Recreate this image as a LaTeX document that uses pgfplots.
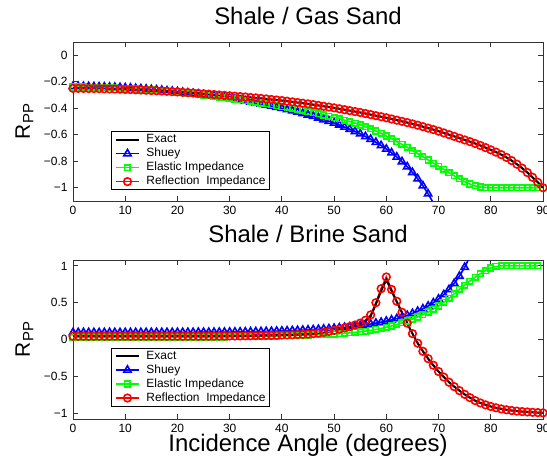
\documentclass[border=0pt]{standalone}
\usepackage{pgfplots}
\pgfplotsset{compat=1.18}
\usepackage{pgfplotstable}
\usepackage{fontspec}
\setmainfont{Liberation Sans}

\definecolor{mblue}{rgb}{0,0,1}
\definecolor{mgreen}{rgb}{0,1,0}
\definecolor{mred}{rgb}{1,0,0}

\pgfplotstableread{
a ex sh ei
0 -0.250 -0.235 -0.240
1 -0.250 -0.235 -0.240
2 -0.250 -0.235 -0.240
3 -0.251 -0.236 -0.241
4 -0.251 -0.237 -0.242
5 -0.252 -0.238 -0.242
6 -0.253 -0.239 -0.243
7 -0.254 -0.240 -0.245
8 -0.255 -0.241 -0.246
9 -0.256 -0.243 -0.248
10 -0.258 -0.245 -0.250
11 -0.259 -0.247 -0.252
12 -0.261 -0.250 -0.254
13 -0.262 -0.252 -0.257
14 -0.264 -0.255 -0.259
15 -0.266 -0.258 -0.262
16 -0.268 -0.261 -0.265
17 -0.270 -0.264 -0.268
18 -0.272 -0.268 -0.272
19 -0.275 -0.271 -0.275
20 -0.277 -0.275 -0.279
21 -0.280 -0.279 -0.283
22 -0.282 -0.284 -0.287
23 -0.285 -0.288 -0.291
24 -0.288 -0.293 -0.295
25 -0.291 -0.298 -0.300
26 -0.294 -0.303 -0.305
27 -0.297 -0.308 -0.310
28 -0.300 -0.314 -0.315
29 -0.303 -0.320 -0.320
30 -0.306 -0.326 -0.325
31 -0.309 -0.332 -0.330
32 -0.312 -0.339 -0.336
33 -0.315 -0.345 -0.342
34 -0.319 -0.352 -0.348
35 -0.322 -0.360 -0.354
36 -0.326 -0.367 -0.360
37 -0.330 -0.375 -0.366
38 -0.334 -0.383 -0.373
39 -0.338 -0.392 -0.380
40 -0.342 -0.400 -0.387
41 -0.347 -0.410 -0.394
42 -0.352 -0.419 -0.401
43 -0.357 -0.429 -0.409
44 -0.362 -0.439 -0.417
45 -0.367 -0.450 -0.425
46 -0.373 -0.461 -0.433
47 -0.379 -0.473 -0.442
48 -0.385 -0.486 -0.451
49 -0.391 -0.498 -0.460
50 -0.397 -0.512 -0.470
51 -0.404 -0.526 -0.480
52 -0.411 -0.542 -0.490
53 -0.418 -0.558 -0.501
54 -0.425 -0.575 -0.513
55 -0.432 -0.593 -0.526
56 -0.440 -0.613 -0.540
57 -0.448 -0.634 -0.555
58 -0.456 -0.657 -0.572
59 -0.464 -0.681 -0.590
60 -0.472 -0.708 -0.610
61 -0.481 -0.736 -0.630
62 -0.490 -0.768 -0.651
63 -0.499 -0.803 -0.673
64 -0.508 -0.841 -0.696
65 -0.518 -0.884 -0.720
66 -0.528 -0.932 -0.743
67 -0.539 -0.985 -0.766
68 -0.550 -1.046 -0.790
69 -0.561 nan -0.814
70 -0.573 nan -0.838
71 -0.586 nan -0.862
72 -0.599 nan -0.886
73 -0.612 nan -0.910
74 -0.626 nan -0.933
75 -0.639 nan -0.954
76 -0.652 nan -0.972
77 -0.666 nan -0.986
78 -0.681 nan -0.995
79 -0.697 nan -0.999
80 -0.714 nan -1.000
81 -0.731 nan -1.000
82 -0.750 nan -1.000
83 -0.771 nan -1.000
84 -0.795 nan -1.000
85 -0.822 nan -1.000
86 -0.852 nan -1.000
87 -0.885 nan -1.000
88 -0.921 nan -1.000
89 -0.959 nan -1.000
90 -1.000 nan nan
}\topdata

\pgfplotstableread{
a ex sh ei ri
0 0.045 0.095 0.030 0.045
1 0.045 0.095 0.030 0.045
2 0.045 0.095 0.030 0.045
3 0.045 0.095 0.030 0.045
4 0.045 0.095 0.030 0.045
5 0.045 0.095 0.030 0.045
6 0.045 0.095 0.030 0.045
7 0.045 0.095 0.030 0.045
8 0.045 0.095 0.030 0.045
9 0.045 0.095 0.030 0.045
10 0.045 0.095 0.030 0.045
11 0.045 0.095 0.031 0.045
12 0.045 0.095 0.031 0.045
13 0.045 0.096 0.031 0.045
14 0.045 0.096 0.031 0.045
15 0.045 0.096 0.031 0.045
16 0.045 0.096 0.031 0.045
17 0.045 0.096 0.031 0.045
18 0.045 0.096 0.031 0.045
19 0.045 0.096 0.031 0.045
20 0.045 0.096 0.031 0.045
21 0.045 0.097 0.032 0.045
22 0.045 0.097 0.032 0.045
23 0.045 0.097 0.032 0.045
24 0.045 0.098 0.032 0.045
25 0.045 0.098 0.032 0.045
26 0.046 0.098 0.033 0.046
27 0.046 0.099 0.033 0.046
28 0.047 0.100 0.034 0.047
29 0.047 0.100 0.035 0.047
30 0.048 0.101 0.036 0.048
31 0.048 0.102 0.037 0.048
32 0.049 0.103 0.038 0.049
33 0.050 0.104 0.039 0.050
34 0.051 0.105 0.040 0.051
35 0.052 0.107 0.041 0.052
36 0.053 0.108 0.042 0.053
37 0.055 0.110 0.044 0.055
38 0.056 0.111 0.045 0.056
39 0.058 0.114 0.047 0.058
40 0.060 0.116 0.049 0.060
41 0.062 0.118 0.051 0.062
42 0.064 0.121 0.053 0.064
43 0.067 0.123 0.055 0.067
44 0.070 0.127 0.057 0.070
45 0.074 0.130 0.060 0.074
46 0.079 0.134 0.063 0.080
47 0.086 0.138 0.066 0.087
48 0.095 0.142 0.069 0.097
49 0.107 0.147 0.072 0.109
50 0.121 0.153 0.075 0.124
51 0.137 0.159 0.079 0.140
52 0.153 0.165 0.084 0.157
53 0.170 0.173 0.090 0.175
54 0.190 0.181 0.097 0.196
55 0.215 0.189 0.105 0.223
56 0.250 0.199 0.114 0.262
57 0.315 0.210 0.124 0.335
58 0.480 0.222 0.136 0.500
59 0.660 0.235 0.150 0.690
60 0.810 0.250 0.166 0.850
61 0.660 0.266 0.184 0.680
62 0.510 0.284 0.204 0.520
63 0.365 0.305 0.226 0.370
64 0.220 0.328 0.250 0.222
65 0.080 0.354 0.277 0.080
66 -0.050 0.383 0.306 -0.050
67 -0.160 0.417 0.338 -0.160
68 -0.260 0.455 0.373 -0.260
69 -0.350 0.499 0.412 -0.350
70 -0.435 0.550 0.455 -0.435
71 -0.510 0.610 0.505 -0.510
72 -0.580 0.679 0.560 -0.580
73 -0.640 0.762 0.620 -0.640
74 -0.695 0.861 0.680 -0.695
75 -0.745 0.981 0.738 -0.745
76 -0.790 nan 0.793 -0.790
77 -0.830 nan 0.845 -0.830
78 -0.862 nan 0.893 -0.862
79 -0.888 nan 0.937 -0.888
80 -0.910 nan 0.972 -0.910
81 -0.928 nan 0.992 -0.928
82 -0.943 nan 1.000 -0.943
83 -0.955 nan 1.000 -0.955
84 -0.965 nan 1.000 -0.965
85 -0.973 nan 1.000 -0.973
86 -0.979 nan 1.000 -0.979
87 -0.984 nan 1.000 -0.984
88 -0.989 nan 1.000 -0.989
89 -0.993 nan 1.000 -0.993
90 -0.997 nan nan -0.997
}\botdata

\pgfplotsset{
  panel/.style={
    scale only axis, width=470bp, height=159bp,
    xmin=0, xmax=90, xtick={0,10,...,90},
    tick align=inside, major tick length=5bp,
    axis line style={black!80, line width=0.8bp},
    every tick/.style={black!80, line width=0.8bp},
    ticklabel style={font=\fontsize{12}{14}\selectfont},
    /pgf/number format/assume math mode=true,
    xticklabel style={inner sep=0.5bp, yshift=-4.5bp},
    yticklabel style={xshift=-2bp},
    title style={font=\fontsize{24}{28}\selectfont, at={(axis description cs:0.5,1)}, anchor=base, yshift=11.6bp},
    ylabel style={font=\fontsize{21}{24}\selectfont, at={(axis description cs:-0.092,0.5)}, anchor=base},
    ylabel={R\raisebox{-3.5bp}{\fontsize{15}{16}\selectfont PP}},
    legend cell align=left,
    legend image code/.code={\draw[mark repeat=2,mark phase=2,##1] plot coordinates {(0bp,0bp) (11.5bp,0bp) (23bp,0bp)};},
    legend style={font=\fontsize{12}{13}\selectfont, anchor=south west, draw=black, line width=0.8bp,
      inner xsep=3.5bp, inner ysep=1.5bp, row sep=1bp, column sep=6bp,
      nodes={inner sep=0.5bp, text height=9bp, text depth=3bp}},
  },
  shu/.style={mblue, line width=1.6bp, mark=triangle, mark size=4.2bp, mark options={solid}},
  eis/.style={mgreen, line width=1.6bp, mark=square, mark size=2.8bp, mark options={solid}},
  ris/.style={mred, line width=1.6bp, mark=o, mark size=3.8bp, mark options={solid}},
  exs/.style={black, line width=2bp, no marks},
}

\begin{document}
\begin{tikzpicture}
\begin{axis}[panel, at={(73bp,259bp)}, anchor=south west,
  ymin=-1.1, ymax=0.1,
  ytick={-1,-0.8,-0.6,-0.4,-0.2,0},
  yticklabels={−1,−0.8,−0.6,−0.4,−0.2,0},
  title={Shale / Gas Sand},
  legend style={at={(axis description cs:0.081,0.069)}},
]
\addlegendimage{exs}
\addlegendentry{Exact}
\addplot[shu] table[x=a,y=sh]{\topdata};
\addlegendentry{Shuey}
\addplot[mblue, line width=1.6bp, forget plot] coordinates {(68,-1.046) (69,-1.114)};
\addplot[eis] table[x=a,y=ei]{\topdata};
\addlegendentry{Elastic Impedance}
\addplot[ris] table[x=a,y=ex]{\topdata};
\addlegendentry{Reflection\ \ Impedance}
\addplot[exs, forget plot] table[x=a,y=ex]{\topdata};
\end{axis}

\begin{axis}[panel, at={(73bp,41bp)}, anchor=south west,
  ymin=-1.08, ymax=1.08,
  ytick={-1,-0.5,0,0.5,1},
  yticklabels={−1,−0.5,0,0.5,1},
  title={Shale / Brine Sand},
  xlabel={Incidence Angle (degrees)},
  xlabel style={font=\fontsize{24}{28}\selectfont, inner sep=0pt, at={(axis description cs:0.5,0)}, anchor=base, yshift=-33bp},
  legend style={at={(axis description cs:0.081,0.079)}},
]
\addlegendimage{exs}
\addlegendentry{Exact}
\addplot[shu] table[x=a,y=sh]{\botdata};
\addlegendentry{Shuey}
\addplot[mblue, line width=1.6bp, forget plot] coordinates {(75,0.981) (76,1.127)};
\addplot[eis] table[x=a,y=ei]{\botdata};
\addlegendentry{Elastic Impedance}
\addplot[ris] table[x=a,y=ri]{\botdata};
\addlegendentry{Reflection\ \ Impedance}
\addplot[exs, forget plot] table[x=a,y=ex]{\botdata};
\end{axis}
\pgfresetboundingbox
\path[use as bounding box] (0bp,0bp) rectangle (547bp,460bp);
\end{tikzpicture}
\end{document}
